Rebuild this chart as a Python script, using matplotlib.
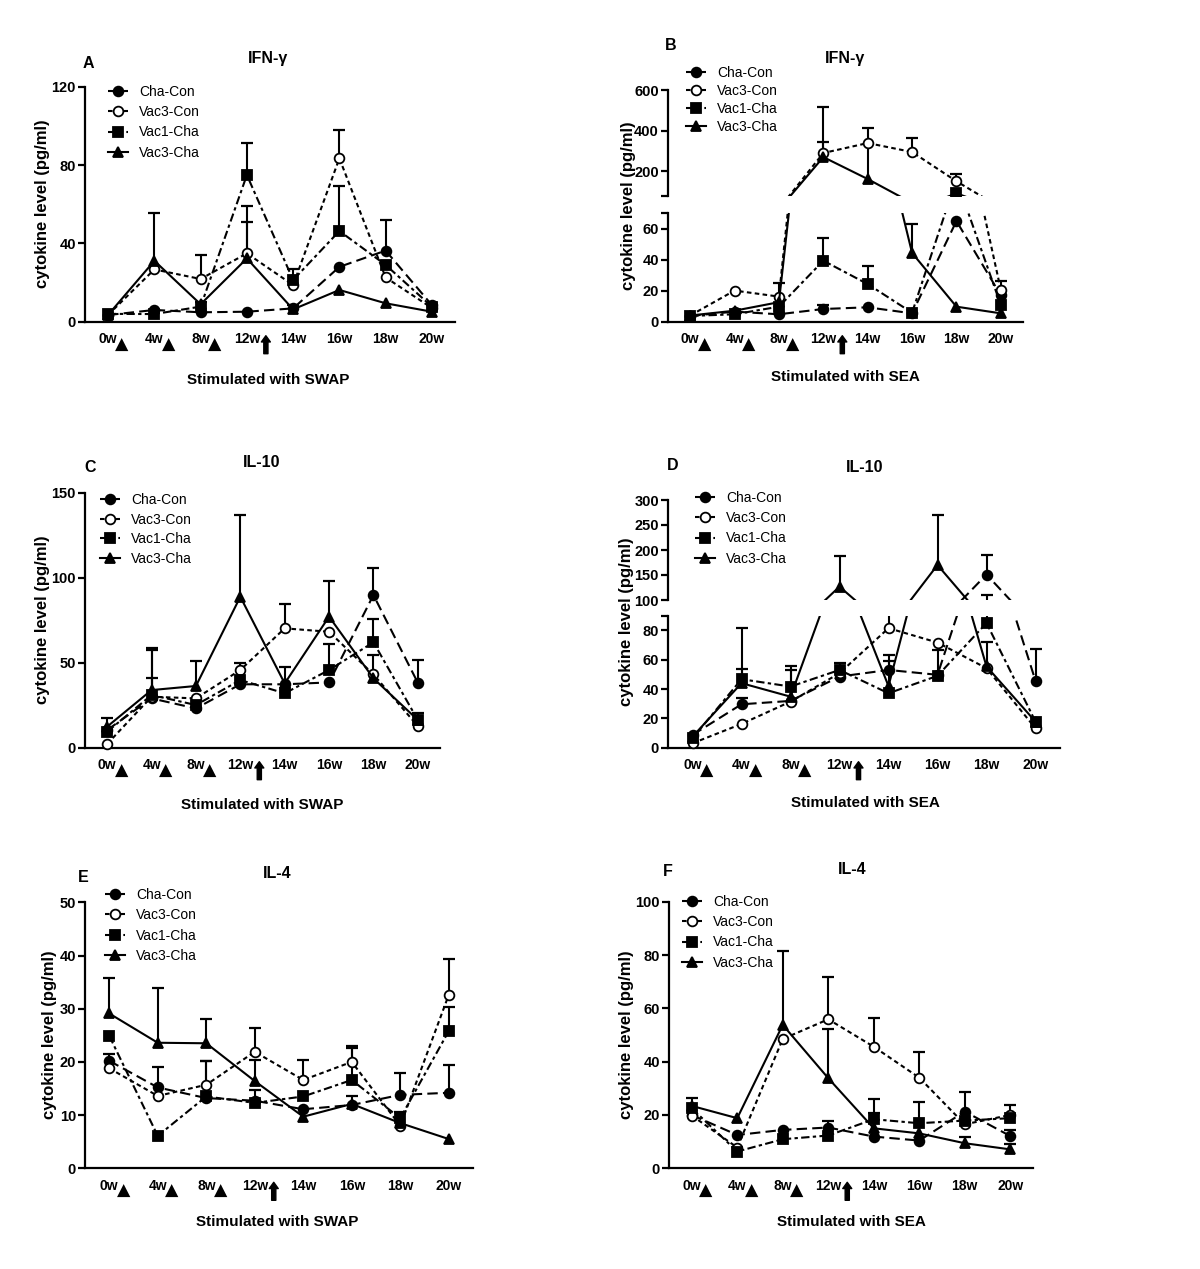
import numpy as np
import matplotlib
matplotlib.use('Agg')
import matplotlib.pyplot as plt
import matplotlib.transforms as mtransforms

plt.rcParams['font.family'] = ['Liberation Sans', 'DejaVu Sans']

W, H = 1200, 1269
nan = np.nan

weeks = ['0w', '4w', '8w', '12w', '14w', '16w', '18w', '20w']
groups = ['Cha-Con', 'Vac3-Con', 'Vac1-Cha', 'Vac3-Cha']

# means per group (Cha-Con, Vac3-Con, Vac1-Cha, Vac3-Cha) and tops of the SEM bars
a_means = [[3.4, 6.0, 4.8, 5.1, 6.8, 28.0, 36.3, 8.5],
           [3.5, 26.7, 21.8, 34.9, 18.7, 83.4, 22.6, 7.0],
           [4.0, 3.9, 7.7, 74.9, 21.3, 46.3, 29.0, 7.7],
           [3.5, 31.1, 8.9, 32.3, 6.3, 16.2, 9.4, 5.1]]
a_tops = [[nan, nan, nan, nan, nan, nan, 52.0, nan],
          [nan, nan, 34.0, 51.0, 27.0, 98.0, nan, nan],
          [nan, nan, 10.0, 91.4, nan, 69.4, nan, nan],
          [nan, 55.7, nan, 59.2, 8.5, nan, nan, nan]]

b_means = [[3.7, 6.5, 4.8, 8.2, 9.3, 5.4, 65.0, 17.0],
           [4.0, 20.1, 16.2, 290, 339, 295, 151, 20.6],
           [3.7, 4.8, 9.7, 39.4, 24.3, 5.8, 92, 10.8],
           [4.0, 7.1, 12.6, 270, 162, 44.4, 9.7, 5.4]]
b_tops = [[nan, nan, nan, 10.8, nan, nan, nan, nan],
          [nan, nan, 25.3, 342, nan, 363, 187, 26.6],
          [nan, nan, nan, 54.0, 35.8, nan, nan, nan],
          [nan, nan, nan, 518, 412, 63.3, nan, nan]]

c_means = [[10.4, 29.0, 23.1, 37.3, 37.3, 38.4, 89.8, 38.2],
           [2.2, 30.0, 29.0, 45.7, 70.2, 68.2, 43.1, 12.7],
           [9.4, 31.0, 25.1, 39.8, 32.0, 45.7, 62.0, 16.3],
           [12.4, 33.9, 36.3, 88.8, 37.8, 77.1, 40.8, 16.3]]
c_tops = [[nan, 57.5, nan, nan, nan, nan, 105.9, 51.6],
          [nan, nan, nan, 50.0, 84.3, nan, 54.5, nan],
          [17.3, 40.8, nan, nan, nan, 61.0, 76.0, 20.6],
          [nan, 58.4, 51.0, 136.9, 47.6, 98.0, nan, nan]]

d_means = [[8.7, 29.6, 31.9, 48.5, 53.0, 49.7, 151, 45.6],
           [3.0, 16.2, 31.4, 50.8, 81.5, 71.7, 54.2, 13.2],
           [6.4, 46.7, 41.7, 53.0, 37.1, 49.0, 85.0, 17.8],
           [7.5, 44.0, 34.8, 126.7, 42.0, 170, 55.4, 17.8]]
d_tops = [[nan, 34.0, nan, nan, 63.3, nan, 191, 67.2],
          [nan, nan, nan, nan, 92, nan, 72.4, nan],
          [nan, 53.5, 55.8, 57.6, 58.8, 66.3, 110, nan],
          [nan, 81.5, 53.0, 189, nan, 271, nan, nan]]

e_means = [[20.2, 15.2, 13.2, 12.7, 11.1, 11.9, 13.8, 14.2],
           [18.8, 13.6, 15.7, 21.9, 16.6, 20.0, 8.0, 32.6],
           [24.9, 6.1, 13.5, 12.3, 13.5, 16.6, 9.4, 25.8],
           [29.1, 23.6, 23.5, 16.4, 9.7, 12.1, 8.5, 5.5]]
e_tops = [[21.5, 19.0, nan, nan, nan, 13.6, 18.0, 19.5],
          [nan, nan, 20.2, 26.4, 20.4, 23.0, nan, 39.3],
          [nan, nan, 20.2, 14.7, nan, 22.7, 10.6, 30.4],
          [35.8, 33.8, 28.1, 20.4, nan, nan, nan, nan]]

f_means = [[20.0, 12.5, 14.4, 15.3, 11.9, 10.4, 21.3, 12.1],
           [19.8, 7.8, 48.5, 55.9, 45.6, 34.0, 16.5, 20.0],
           [22.5, 6.3, 10.9, 12.3, 18.4, 16.9, 17.9, 18.8],
           [23.4, 18.8, 53.8, 33.8, 15.0, 13.1, 9.4, 7.1]]
f_tops = [[nan, nan, nan, 17.9, nan, nan, 28.8, 14.4],
          [nan, nan, nan, 71.6, 56.5, 43.8, nan, 23.8],
          [nan, nan, nan, nan, 25.9, 25.0, nan, nan],
          [26.3, nan, 81.6, 52.3, 20.6, nan, 11.6, 9.1]]

styles = [dict(marker='o', ms=7, mfc='black', ls=(0, (5, 2.5))),
          dict(marker='o', ms=7, mfc='white', ls=(0, (2.2, 1.6))),
          dict(marker='s', ms=6.5, mfc='black', ls=(0, (4, 1.6, 1.6, 1.6))),
          dict(marker='^', ms=7.5, mfc='black', ls='-')]

fig = plt.figure(figsize=(W / 100, H / 100), dpi=100)


def add_axes(l, t, r, b):
    ax = fig.add_axes([l / W, 1 - b / H, (r - l) / W, (b - t) / H])
    for s in ['top', 'right']:
        ax.spines[s].set_visible(False)
    for s in ['left', 'bottom']:
        ax.spines[s].set_linewidth(1.6)
    ax.tick_params(axis='y', length=5, width=1.6, pad=1.5, labelsize=10.5)
    ax.tick_params(axis='x', length=0, pad=7.5, labelsize=10)
    ax.set_xlim(-0.5, 7.5)
    return ax


def draw(ax, means, tops, clip=(0, 1)):
    x = np.arange(len(weeks))
    box = mtransforms.TransformedBbox(mtransforms.Bbox([[-0.05, clip[0]], [1.05, clip[1]]]), ax.transAxes)
    lines = []
    for m, t, st in zip(means, tops, styles):
        m = np.array(m, float)
        t = np.array(t, float)
        ok = ~np.isnan(t)
        v = ax.vlines(x[ok], m[ok], t[ok], color='black', lw=1.5, zorder=2)
        c, = ax.plot(x[ok], t[ok], ls='none', marker='_', ms=8, mew=1.6, color='black', zorder=2)
        ln, = ax.plot(x, m, color='black', lw=1.5, mec='black', mew=1.3, zorder=3,
                      dash_capstyle='butt', **st)
        for art in (v, c, ln):
            art.set_clip_box(box)
        lines.append(ln)
    return lines


def xlabels(ax):
    ax.set_xticks(range(len(weeks)))
    ax.set_xticklabels(weeks, fontweight='bold')
    blend = mtransforms.blended_transform_factory(ax.transData, ax.transAxes)
    for i in range(3):
        tr = mtransforms.offset_copy(blend, fig=fig, x=14, y=-23, units='dots')
        ax.text(i, 0, '\u25B2', transform=tr, ha='center', va='center', fontsize=12.5,
                family=['DejaVu Sans'])
    head = mtransforms.offset_copy(blend, fig=fig, x=19, y=-14, units='dots')
    tail = mtransforms.offset_copy(blend, fig=fig, x=19, y=-32, units='dots')
    ax.annotate('', xy=(3, 0), xycoords=head, xytext=(3, 0), textcoords=tail,
                arrowprops=dict(arrowstyle='simple,head_length=0.45,head_width=0.65,tail_width=0.3',
                                fc='black', ec='black', shrinkA=0, shrinkB=0),
                annotation_clip=False)


def labels(letter, lxy, title, txy, xlab, xxy, yx, yy):
    fig.text(lxy[0] / W, 1 - lxy[1] / H, letter, ha='center', va='center', fontsize=11.5, fontweight='bold')
    fig.text(txy[0] / W, 1 - txy[1] / H, title, ha='center', va='center', fontsize=11.5, fontweight='bold')
    fig.text(xxy[0] / W, 1 - xxy[1] / H, xlab, ha='center', va='center', fontsize=11, fontweight='bold')
    fig.text(yx / W, 1 - yy / H, 'cytokine level (pg/ml)', ha='center', va='center', rotation=90,
             fontsize=12, fontweight='bold')


def legend(ax, lines, x, y, spacing):
    ax.legend(lines, groups, loc='upper left', bbox_to_anchor=(x / W, 1 - y / H),
              bbox_transform=fig.transFigure, frameon=False, borderpad=0, borderaxespad=0,
              handlelength=1.45, handletextpad=0.8, labelspacing=spacing, fontsize=10)


def boldticks(ax):
    for t in ax.get_yticklabels():
        t.set_fontweight('bold')


# A
ax = add_axes(85, 86.7, 455, 321.7)
ax.set_ylim(0, 120)
ax.set_yticks([0, 40, 80, 120])
boldticks(ax)
ln = draw(ax, a_means, a_tops, clip=(-0.1, 1.05))
xlabels(ax)
legend(ax, ln, 108, 85, 0.45)
labels('A', (88, 63), 'IFN-\u03b3', (268, 58), 'Stimulated with SWAP', (268, 380), 43, 204)

# B (broken axis)
axu = add_axes(668, 90, 1023, 195.7)
axu.spines['bottom'].set_visible(False)
axu.set_xticks([])
axu.set_ylim(80, 600)
axu.set_yticks([80, 200, 400, 600])
axu.set_yticklabels(['', '200', '400', '600'])
boldticks(axu)
draw(axu, b_means, b_tops)
axl = add_axes(668, 213.3, 1023, 321.7)
axl.set_ylim(0, 70)
axl.set_yticks([0, 20, 40, 60, 70])
axl.set_yticklabels(['0', '20', '40', '60', ''])
boldticks(axl)
ln = draw(axl, b_means, b_tops, clip=(-0.1, 1.0))
xlabels(axl)
legend(axl, ln, 686, 66, 0.28)
labels('B', (671, 45), 'IFN-\u03b3', (845, 58), 'Stimulated with SEA', (845, 377), 628, 206)

# C
ax = add_axes(85, 492.7, 440, 747.7)
ax.set_ylim(0, 150)
ax.set_yticks([0, 50, 100, 150])
boldticks(ax)
ln = draw(ax, c_means, c_tops, clip=(-0.1, 1.05))
xlabels(ax)
legend(ax, ln, 100, 493, 0.4)
labels('C', (90, 467), 'IL-10', (262, 462), 'Stimulated with SWAP', (262, 805), 42, 620)

# D (broken axis)
axu = add_axes(668, 500, 1060, 600)
axu.spines['bottom'].set_visible(False)
axu.set_xticks([])
axu.set_ylim(100, 300)
axu.set_yticks([100, 150, 200, 250, 300])
boldticks(axu)
draw(axu, d_means, d_tops)
axl = add_axes(668, 615.7, 1060, 747.7)
axl.set_ylim(0, 90)
axl.set_yticks([0, 20, 40, 60, 80, 90])
axl.set_yticklabels(['0', '20', '40', '60', '80', ''])
boldticks(axl)
ln = draw(axl, d_means, d_tops, clip=(-0.1, 1.0))
xlabels(axl)
legend(axl, ln, 695, 491, 0.45)
labels('D', (673, 466), 'IL-10', (865, 468), 'Stimulated with SEA', (865, 803), 627, 622)

# E
ax = add_axes(85, 902.3, 473, 1168.3)
ax.set_ylim(0, 50)
ax.set_yticks([0, 10, 20, 30, 40, 50])
boldticks(ax)
ln = draw(ax, e_means, e_tops, clip=(-0.1, 1.05))
xlabels(ax)
legend(ax, ln, 105, 888, 0.45)
labels('E', (83, 878), 'IL-4', (277, 873), 'Stimulated with SWAP', (277, 1222), 50, 1035)

# F
ax = add_axes(669, 901.7, 1033, 1168.3)
ax.set_ylim(0, 100)
ax.set_yticks([0, 20, 40, 60, 80, 100])
boldticks(ax)
ln = draw(ax, f_means, f_tops, clip=(-0.1, 1.05))
xlabels(ax)
legend(ax, ln, 682, 895, 0.45)
labels('F', (668, 871), 'IL-4', (852, 870), 'Stimulated with SEA', (851, 1222), 627, 1035)

fig.savefig('out.png', dpi=100)
